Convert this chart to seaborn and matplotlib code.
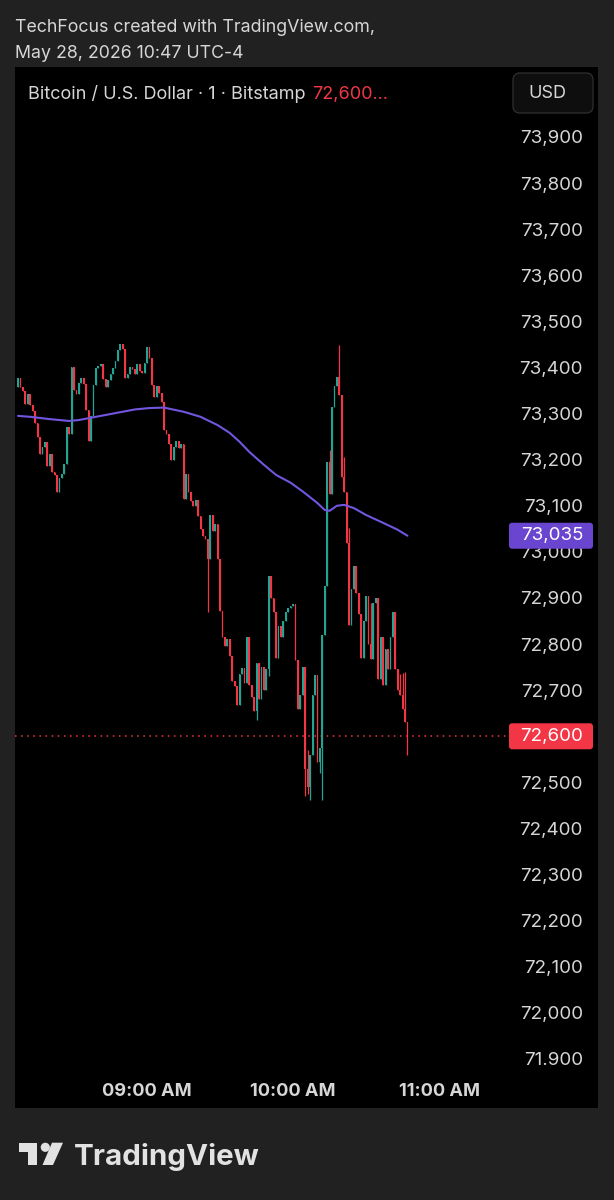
import matplotlib
matplotlib.use("Agg")
import matplotlib.pyplot as plt
import matplotlib.transforms as mtransforms
import seaborn as sns
import numpy as np
from matplotlib.patches import FancyBboxPatch, Rectangle, Circle, Polygon

# ---------------- data ----------------
header_line1 = "TechFocus created with TradingView.com,"
header_line2 = "May 28, 2026 10:47 UTC-4"
symbol_title = "Bitcoin / U.S. Dollar · 1 · Bitstamp"
title_price = "72,600..."
currency = "USD"
brand = "TradingView"

first_candle_time = "08:07"
first_open = 73358
closes = [
    73377, 73358, 73350, 73320, 73342, 73318, 73305, 73280, 73250,
    73212, 73228, 73238, 73186, 73212, 73173, 73167, 73130, 73160, 73168, 73190,
    73270, 73255, 73400, 73352, 73342, 73366,
    73378, 73365, 73308, 73240, 73295, 73362, 73398, 73403, 73408, 73375, 73358,
    73372, 73385, 73398, 73415, 73438, 73450, 73440, 73378, 73385, 73402, 73396,
    73385, 73408, 73392, 73388, 73410, 73445,
    73420, 73362, 73335, 73360, 73345, 73325, 73264, 73255, 73235, 73200, 73228,
    73240, 73225, 73235, 73115, 73170, 73130, 73110, 73100, 73112, 73078, 73050,
    73035, 73028,
    72985, 73080, 73045, 73060, 72985, 72872, 72815, 72795, 72810, 72775, 72720,
    72710, 72668, 72735, 72748, 72715, 72815, 72712, 72685, 72655, 72760, 72680,
    72750, 72700, 72745, 72948,
    72900, 72870, 72770, 72840, 72815, 72850, 72870, 72878, 72882, 72888, 72766,
    72660, 72690, 72750,
    72530, 72490, 72560, 72690, 72733, 72545, 72575, 72820, 72925, 73195, 73125,
    73315, 73360, 73380,
    73340, 73163, 73130, 73020, 72842, 72920, 72970, 72910, 72865, 72770, 72850,
    72905, 72800, 72768, 72890, 72900, 72725, 72815, 72712, 72790, 72745, 72815,
    72870, 72745, 72700, 72690, 72660, 72630, 72600,
]
high_wicks = {
    "10:06": 72570, "10:15": 73220, "10:19": 73449, "10:21": 73205,
    "10:23": 73052, "10:32": 72890, "10:44": 72735, "10:45": 72738,
    "10:46": 72740,
}
low_wicks = {
    "09:25": 72870, "09:45": 72635, "09:50": 72730, "10:05": 72470,
    "10:06": 72475, "10:07": 72462, "10:11": 72520, "10:12": 72462,
    "10:47": 72560,
}
ma_times = ["08:07", "08:12", "08:20", "08:28", "08:32", "08:41", "08:49",
            "08:55", "09:01", "09:07", "09:15", "09:22", "09:29", "09:34",
            "09:38", "09:42", "09:48", "09:53", "09:59", "10:04", "10:10",
            "10:13", "10:15", "10:18", "10:21", "10:25", "10:30", "10:37",
            "10:43", "10:47"]
ma_values = [73295, 73293, 73288, 73284, 73286, 73295, 73303, 73309, 73312,
             73313, 73304, 73293, 73275, 73258, 73239, 73217, 73189, 73167,
             73150, 73131, 73106, 73091, 73089, 73100, 73102, 73095, 73080,
             73063, 73048, 73035]
last_price = 72600
last_price_label = "72,600"
ma_last_value = 73035
ma_last_label = "73,035"
y_tick_values = [73900, 73800, 73700, 73600, 73500, 73400, 73300, 73200,
                 73100, 73000, 72900, 72800, 72700, 72600, 72500, 72400,
                 72300, 72200, 72100, 72000, 71900]
y_tick_labels = ["73,900", "73,800", "73,700", "73,600", "73,500", "73,400",
                 "73,300", "73,200", "73,100", "73,000", "72,900", "72,800",
                 "72,700", "72,600", "72,500", "72,400", "72,300", "72,200",
                 "72,100", "72,000", "71.900"]
x_tick_times = ["09:00", "10:00", "11:00"]
x_tick_labels = ["09:00 AM", "10:00 AM", "11:00 AM"]

# ---------------- style ----------------
BG = "#212121"
PANEL = "#000000"
UP = "#22a393"
DOWN = "#f23645"
MA = "#7256e0"
MA_BOX = "#6a45cf"
TXT = "#d6d6d6"
FS = 13.5

sns.set_theme(style="dark")
plt.rcParams["font.family"] = ["Inter", "DejaVu Sans"]


def to_min(s):
    h, m = s.split(":")
    return int(h) * 60 + int(m)


t0 = to_min(first_candle_time)
xs = np.arange(len(closes)) + t0
cl = np.array(closes, float)
opens = np.array([first_open] + closes[:-1], float)
highs = np.maximum(opens, cl)
lows = np.minimum(opens, cl)
for t, v in high_wicks.items():
    highs[to_min(t) - t0] = v
for t, v in low_wicks.items():
    lows[to_min(t) - t0] = v
colors = np.where(cl >= opens, UP, DOWN)

W, H = 614, 1200
fig = plt.figure(figsize=(W / 100, H / 100), dpi=100)
fig.patch.set_facecolor(BG)
ax = fig.add_axes([15 / W, 1 - 1108 / H, 583 / W, 1041 / H])
ax.set_facecolor(PANEL)
for s in ax.spines.values():
    s.set_visible(False)
ax.grid(False)
ax.set_xlim(485.75, 725.3)
ax.set_ylim(71793.7, 74051.8)

ax.vlines(xs, lows, highs, colors=colors, linewidth=0.9, zorder=3)
ax.bar(xs, np.maximum(np.abs(cl - opens), 3), bottom=np.minimum(opens, cl),
       width=0.72, color=colors, linewidth=0, zorder=3)

sns.lineplot(x=[to_min(t) for t in ma_times], y=ma_values, ax=ax,
             color=MA, linewidth=1.5, zorder=4)
ax.set_xlabel("")
ax.set_ylabel("")

ax.axhline(last_price, xmin=0, xmax=(508 - 15) / 583, color=DOWN,
           linewidth=1.1, linestyle=(0, (1, 3)), zorder=2)

# axes ticks
ax.yaxis.tick_right()
ax.set_yticks(y_tick_values)
ax.set_yticklabels(y_tick_labels)
ax.tick_params(axis="y", length=0, pad=-15 * 0.72, labelsize=FS,
               labelcolor=TXT)
for lab in ax.get_yticklabels():
    lab.set_ha("right")
ax.set_xticks([to_min(t) for t in x_tick_times])
ax.set_xticklabels(x_tick_labels, fontweight="bold")
ax.tick_params(axis="x", length=0, pad=-17 * 0.72, labelsize=13.1,
               labelcolor=TXT)
for lab in ax.get_xticklabels():
    lab.set_va("center")

ident = mtransforms.IdentityTransform()

# price label boxes
for val, lab, col in [(ma_last_value, ma_last_label, MA_BOX),
                      (last_price, last_price_label, DOWN)]:
    yd = ax.transData.transform((600, val))[1]
    box = FancyBboxPatch((509, yd - 13), 84, 26,
                         boxstyle="round,pad=0,rounding_size=3",
                         facecolor=col, edgecolor="none", transform=ident,
                         zorder=5)
    fig.add_artist(box)
    fig.text(583 / W, yd / H, lab, ha="right", va="center", color="white",
             fontsize=FS, zorder=6)

# header
fig.text(15 / W, 1 - 27.5 / H, header_line1, ha="left", va="center",
         color=TXT, fontsize=12.8)
fig.text(15 / W, 1 - 53.5 / H, header_line2, ha="left", va="center",
         color=TXT, fontsize=12.8)
fig.text(28 / W, 1 - 94 / H, symbol_title, ha="left", va="center",
         color=TXT, fontsize=13)
fig.text(312 / W, 1 - 94 / H, title_price, ha="left", va="center",
         color=DOWN, fontsize=13)

usd = FancyBboxPatch((513, H - 113), 80, 40,
                     boxstyle="round,pad=0,rounding_size=7",
                     facecolor="#0e0e0e", edgecolor="#2c2c2c", linewidth=1,
                     transform=ident, zorder=5)
fig.add_artist(usd)
fig.text(547 / W, 1 - 93 / H, currency, ha="center", va="center", color=TXT,
         fontsize=13, zorder=6)

# logo
LOGO = "#e2e2e2"
fig.add_artist(Rectangle((18.8, H - 1151.7), 18.4, 9.0, facecolor=LOGO,
                         edgecolor="none", transform=ident, zorder=5))
fig.add_artist(Rectangle((27.6, H - 1165), 9.6, 14.0, facecolor=LOGO,
                         edgecolor="none", transform=ident, zorder=5))
fig.add_artist(Circle((45.3, H - 1147.3), 4.6, facecolor=LOGO,
                      edgecolor="none", transform=ident, zorder=5))
fig.add_artist(Polygon([(52, H - 1142.7), (63, H - 1142.7), (53, H - 1165),
                        (42.5, H - 1165)], closed=True, facecolor=LOGO,
                       edgecolor="none", transform=ident, zorder=5))
fig.text(74 / W, 1 - 1165 / H, brand, ha="left", va="baseline", color=LOGO,
         fontsize=21.3, fontweight="bold")

fig.savefig("out.png", dpi=100, facecolor=BG)
